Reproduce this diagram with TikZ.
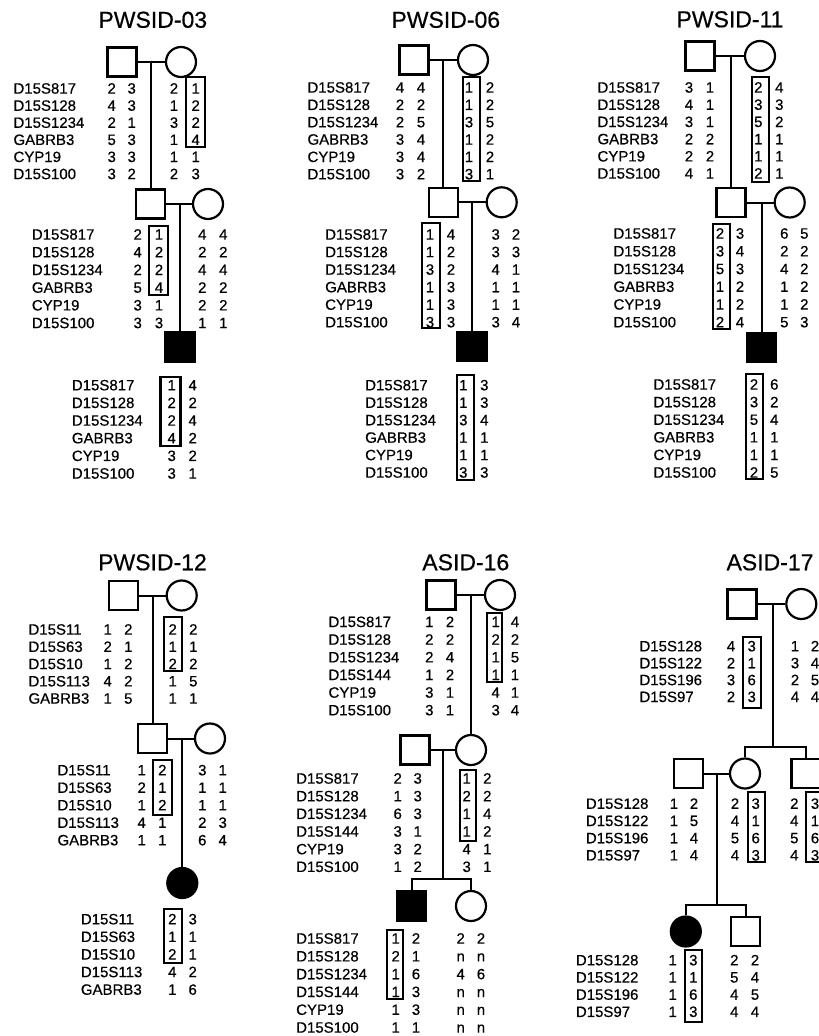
\documentclass[tikz,border=0pt]{standalone}
\usepackage{fontspec}
\setmainfont{Liberation Sans}[FakeBold=0.5]
\newcommand\labcol[5]{\foreach \mylab [count=\i] in {#5} \node[lbl] (#1-\i) at (#2,{#3+(\i-1)*#4}) {\mylab};}
\newcommand\numcol[5]{\foreach \mylab [count=\i] in {#5} \node[num] (#1-\i) at (#2,{#3+(\i-1)*#4}) {\mylab};}
\newcommand\hapbox[4]{\draw[hap] (#1,#2) rectangle (#3,#4);}
\begin{document}
\begin{tikzpicture}[x=1pt,y=-1pt,
 lbl/.style={anchor=west,inner sep=0pt,text height=10.7pt,text depth=0pt,font=\fontsize{15}{15}\selectfont},
 num/.style={anchor=center,inner sep=0pt,text height=10.7pt,text depth=0pt,font=\fontsize{15}{15}\selectfont},
 ttl/.style={inner sep=0pt,text height=16.5pt,text depth=0pt,font=\fontsize{23}{23}\selectfont},
 male/.style={draw,line width=2.2pt,rectangle,minimum size=29pt,inner sep=0pt},
 female/.style={draw,line width=2.2pt,circle,minimum size=30pt,inner sep=0pt},
 aff/.style={fill=black},
 link/.style={line width=2pt},
 hap/.style={line width=2.1pt}]
\useasboundingbox (0,0) rectangle (819,1036);
% ================= PWSID-03
\node[ttl] (t03) at (152.8,19.5) {PWSID-03};
\node[male] (gf03) at (122,62) {};
\node[female] (gm03) at (181,62) {};
\draw[link] (gf03) -- (gm03);
\coordinate (ma03) at (150.7,62);
\node[male] (f03) at (150.7,204) {};
\node[female] (m03) at (208,204) {};
\draw[link] (ma03) -- (f03.north);
\draw[link] (f03) -- (m03);
\coordinate (mb03) at (180,204);
\node[male,aff] (p03) at (180,347) {};
\draw[link] (mb03) -- (p03.north);
\labcol{a03}{13.3}{88.3}{17.1}{D15S817,D15S128,D15S1234,GABRB3,CYP19,D15S100}
\numcol{a03f1}{111.7}{88.3}{17.1}{2,4,2,5,3,3}
\numcol{a03f2}{131.7}{88.3}{17.1}{3,3,1,3,3,2}
\numcol{a03m1}{174}{88.3}{17.1}{2,1,3,1,1,2}
\numcol{a03m2}{195.7}{88.3}{17.1}{1,2,2,4,1,3}
\hapbox{185.7}{77.3}{205}{147.3}
\labcol{b03}{31.7}{234.3}{17.7}{D15S817,D15S128,D15S1234,GABRB3,CYP19,D15S100}
\numcol{b03f1}{137.7}{234.3}{17.7}{2,4,2,5,3,3}
\numcol{b03f2}{159}{234.3}{17.7}{1,2,2,4,1,3}
\numcol{b03m1}{202.3}{234.3}{17.7}{4,2,4,2,2,1}
\numcol{b03m2}{223.3}{234.3}{17.7}{4,2,4,2,2,1}
\hapbox{149}{225.7}{168.3}{295}
\labcol{c03}{71.7}{385}{17.66}{D15S817,D15S128,D15S1234,GABRB3,CYP19,D15S100}
\numcol{c03a}{171.7}{385}{17.66}{1,2,2,4,3,3}
\numcol{c03b}{192.7}{385}{17.66}{4,2,4,2,2,1}
\hapbox{160.5}{376.7}{180.5}{446}
% ================= PWSID-06
\node[ttl] (t06) at (445.8,19.5) {PWSID-06};
\node[male] (gf06) at (414,60) {};
\node[female] (gm06) at (473,60) {};
\draw[link] (gf06) -- (gm06);
\coordinate (ma06) at (443.3,60);
\node[male] (f06) at (443.3,202.3) {};
\node[female] (m06) at (501.7,202.3) {};
\draw[link] (ma06) -- (f06.north);
\draw[link] (f06) -- (m06);
\coordinate (mb06) at (472,202.3);
\node[male,aff] (p06) at (472,346.5) {};
\draw[link] (mb06) -- (p06.north);
\labcol{a06}{307.3}{87.3}{17.34}{D15S817,D15S128,D15S1234,GABRB3,CYP19,D15S100}
\numcol{a06f1}{400}{87.3}{17.34}{4,2,2,3,3,3}
\numcol{a06f2}{421}{87.3}{17.34}{4,2,5,4,4,2}
\numcol{a06m1}{469}{87.3}{17.34}{1,1,3,1,1,3}
\numcol{a06m2}{490}{87.3}{17.34}{2,2,5,2,2,1}
\hapbox{462.7}{76.7}{480}{180.7}
\labcol{b06}{325}{234.3}{17.54}{D15S817,D15S128,D15S1234,GABRB3,CYP19,D15S100}
\numcol{b06f1}{430}{234.3}{17.54}{1,1,3,1,1,3}
\numcol{b06f2}{451}{234.3}{17.54}{4,2,2,3,3,3}
\numcol{b06m1}{495.7}{234.3}{17.54}{3,3,4,1,1,3}
\numcol{b06m2}{516}{234.3}{17.54}{2,3,1,1,1,4}
\hapbox{421.7}{223.3}{440}{328.3}
\labcol{c06}{365}{385}{17.46}{D15S817,D15S128,D15S1234,GABRB3,CYP19,D15S100}
\numcol{c06a}{463.3}{385}{17.46}{1,1,3,1,1,3}
\numcol{c06b}{484.3}{385}{17.46}{3,3,4,1,1,3}
\hapbox{456.7}{375}{474}{480}
% ================= PWSID-11
\node[ttl] (t11) at (730,19) {PWSID-11};
\node[male] (gf11) at (700,56) {};
\node[female] (gm11) at (760,56) {};
\draw[link] (gf11) -- (gm11);
\coordinate (ma11) at (731,56);
\node[male] (f11) at (731,202.5) {};
\node[female] (m11) at (789.7,202.5) {};
\draw[link] (ma11) -- (f11.north);
\draw[link] (f11) -- (m11);
\coordinate (mb11) at (761.5,202.5);
\node[male,aff] (p11) at (761.5,347.3) {};
\draw[link] (mb11) -- (p11.north);
\labcol{a11}{597.3}{87.3}{17.2}{D15S817,D15S128,D15S1234,GABRB3,CYP19,D15S100}
\numcol{a11f1}{689}{87.3}{17.2}{3,4,3,2,2,4}
\numcol{a11f2}{710}{87.3}{17.2}{1,1,1,2,2,1}
\numcol{a11m1}{758.3}{87.3}{17.2}{2,3,5,1,1,2}
\numcol{a11m2}{779.3}{87.3}{17.2}{4,3,2,1,1,1}
\hapbox{752.3}{77.3}{769}{181.7}
\labcol{b11}{613.3}{233.3}{17.74}{D15S817,D15S128,D15S1234,GABRB3,CYP19,D15S100}
\numcol{b11f1}{720}{233.3}{17.74}{2,3,5,1,1,2}
\numcol{b11f2}{740}{233.3}{17.74}{3,4,3,2,2,4}
\numcol{b11m1}{784.3}{233.3}{17.74}{6,2,4,1,1,5}
\numcol{b11m2}{804.3}{233.3}{17.74}{5,2,2,2,2,3}
\hapbox{712.7}{224}{730}{329}
\labcol{c11}{653.3}{384.3}{17.6}{D15S817,D15S128,D15S1234,GABRB3,CYP19,D15S100}
\numcol{c11a}{754}{384.3}{17.6}{2,3,5,1,1,2}
\numcol{c11b}{774.3}{384.3}{17.6}{6,2,4,1,1,5}
\hapbox{745.7}{374}{762.7}{479.3}
% ================= PWSID-12
\node[ttl] (t12) at (152.5,562) {PWSID-12};
\node[male] (gf12) at (123.3,595.5) {};
\node[female] (gm12) at (181.7,595.5) {};
\draw[link] (gf12) -- (gm12);
\coordinate (ma12) at (152.5,595.5);
\node[male] (f12) at (152.5,738.5) {};
\node[female] (m12) at (210,738.5) {};
\draw[link] (ma12) -- (f12.north);
\draw[link] (f12) -- (m12);
\coordinate (mb12) at (182.3,738.5);
\node[female,aff] (p12) at (182.3,883) {};
\draw[link] (mb12) -- (p12.north);
\labcol{a12}{28.3}{629.3}{17.25}{D15S11,D15S63,D15S10,D15S113,GABRB3}
\numcol{a12f1}{107.7}{629.3}{17.25}{1,2,1,4,1}
\numcol{a12f2}{128.3}{629.3}{17.25}{2,1,2,2,5}
\numcol{a12m1}{172.7}{629.3}{17.25}{2,1,2,1,1}
\numcol{a12m2}{193.3}{629.3}{17.25}{2,1,2,5,1}
\hapbox{164.3}{617.3}{182.3}{671}
\labcol{b12}{57.3}{770}{17.5}{D15S11,D15S63,D15S10,D15S113,GABRB3}
\numcol{b12f1}{141.7}{770}{17.5}{1,2,1,4,1}
\numcol{b12f2}{162.3}{770}{17.5}{2,1,2,1,1}
\numcol{b12m1}{202.3}{770}{17.5}{3,1,1,2,6}
\numcol{b12m2}{222.7}{770}{17.5}{1,1,1,3,4}
\hapbox{153.3}{760}{171.7}{815}
\labcol{c12}{80.7}{919}{17.6}{D15S11,D15S63,D15S10,D15S113,GABRB3}
\numcol{c12a}{172.3}{919}{17.6}{2,1,2,4,1}
\numcol{c12b}{192.7}{919}{17.6}{3,1,1,2,6}
\hapbox{164}{909}{182}{963.3}
% ================= ASID-16
\node[ttl] (t16) at (465.8,562) {ASID-16};
\node[male] (gf16) at (441,595) {};
\node[female] (gm16) at (500,595) {};
\draw[link] (gf16) -- (gm16);
\coordinate (ma16) at (471,595);
\node[female] (d16) at (471,750) {};
\node[male] (h16) at (415,750) {};
\draw[link] (ma16) -- (d16.north);
\draw[link] (h16) -- (d16);
\coordinate (mb16) at (443.3,750);
\coordinate (s16) at (443.3,879.3);
\node[male,aff] (son16) at (411.5,906) {};
\node[female] (sis16) at (471,906) {};
\draw[link] (mb16) -- (s16);
\draw[link] (son16.north) -- (son16.north |- s16) -- (sis16.north |- s16) -- (sis16.north);
\labcol{a16}{328.3}{621.7}{17.66}{D15S817,D15S128,D15S1234,D15S144,CYP19,D15S100}
\numcol{a16f1}{429.3}{621.7}{17.66}{1,2,2,1,3,3}
\numcol{a16f2}{450}{621.7}{17.66}{2,2,4,2,1,1}
\numcol{a16m1}{495.7}{621.7}{17.66}{1,2,1,1,4,3}
\numcol{a16m2}{515}{621.7}{17.66}{4,2,5,1,1,4}
\hapbox{486.7}{613.3}{502.3}{682.3}
\labcol{b16}{296}{778.3}{17.66}{D15S817,D15S128,D15S1234,D15S144,CYP19,D15S100}
\numcol{b16f1}{397.7}{778.3}{17.66}{2,1,6,3,3,1}
\numcol{b16f2}{417.7}{778.3}{17.66}{3,3,3,1,2,2}
\numcol{b16m1}{466.7}{778.3}{17.66}{1,2,1,1,4,3}
\numcol{b16m2}{487.3}{778.3}{17.66}{2,2,4,2,1,1}
\hapbox{460}{770}{475.7}{841}
\labcol{c16}{296}{938.3}{17.8}{D15S817,D15S128,D15S1234,D15S144,CYP19,D15S100}
\numcol{c16s1}{395.7}{938.3}{17.8}{1,2,1,1,1,1}
\numcol{c16s2}{416}{938.3}{17.8}{2,1,6,3,3,1}
\numcol{c16d1}{460.7}{938.3}{17.8}{2,n,4,n,n,n}
\numcol{c16d2}{481}{938.3}{17.8}{2,n,6,n,n,n}
\hapbox{387.3}{930}{403.3}{999.3}
% ================= ASID-17
\node[ttl] (t17) at (770,562) {ASID-17};
\node[male] (gf17) at (742,604) {};
\node[female] (gm17) at (801.3,604) {};
\draw[link] (gf17) -- (gm17);
\coordinate (ma17) at (772.7,604);
\coordinate (sa17) at (772.7,746.7);
\node[female] (d17) at (745,773.5) {};
\node[male] (b17) at (806,773.5) {};
\draw[link] (ma17) -- (sa17);
\draw[link] (d17.north) -- (d17.north |- sa17) -- (b17.north |- sa17) -- (b17.north);
\node[male] (h17) at (688.3,773.5) {};
\draw[link] (h17) -- (d17);
\coordinate (mb17) at (716.7,773.5);
\coordinate (sb17) at (716.7,905);
\node[female,aff] (p17) at (685.8,931.5) {};
\node[male] (son17) at (745.8,931.5) {};
\draw[link] (mb17) -- (sb17);
\draw[link] (p17.north) -- (p17.north |- sb17) -- (son17.north |- sb17) -- (son17.north);
\labcol{a17}{639.3}{646}{16.9}{D15S128,D15S122,D15S196,D15S97}
\numcol{a17f1}{731}{646}{16.9}{4,2,3,2}
\numcol{a17f2}{751.7}{646}{16.9}{3,1,6,3}
\numcol{a17m1}{795}{646}{16.9}{1,3,2,4}
\numcol{a17m2}{815}{646}{16.9}{2,4,5,4}
\hapbox{742.7}{636.7}{760.7}{707.7}
\labcol{b17l}{585.7}{803.5}{17.2}{D15S128,D15S122,D15S196,D15S97}
\numcol{b17h1}{674}{803.5}{17.2}{1,1,1,1}
\numcol{b17h2}{694}{803.5}{17.2}{2,5,4,4}
\numcol{b17d1}{735}{803.5}{17.2}{2,4,5,4}
\numcol{b17d2}{755.7}{803.5}{17.2}{3,1,6,3}
\numcol{b17b1}{794.3}{803.5}{17.2}{2,4,5,4}
\numcol{b17b2}{815}{803.5}{17.2}{3,1,6,3}
\hapbox{747.7}{792.3}{765}{862.3}
\hapbox{805.7}{792.3}{823}{862.3}
\labcol{c17}{575.7}{960}{17.2}{D15S128,D15S122,D15S196,D15S97}
\numcol{c17p1}{672.7}{960}{17.2}{1,1,1,1}
\numcol{c17p2}{693.3}{960}{17.2}{3,1,6,3}
\numcol{c17s1}{734.3}{960}{17.2}{2,5,4,4}
\numcol{c17s2}{755}{960}{17.2}{2,4,5,4}
\hapbox{685}{950}{702.3}{1021.7}
\end{tikzpicture}
\end{document}
